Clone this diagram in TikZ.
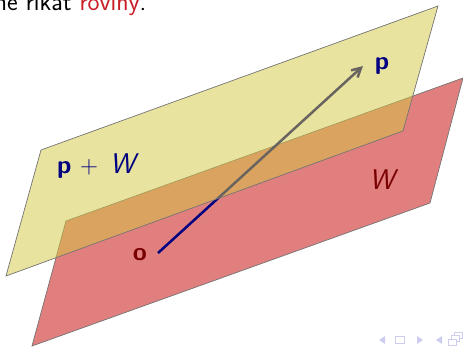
\documentclass[tikz,border=0pt]{standalone}
\usepackage{fontspec}
\usepackage{amsmath}
\usepackage{xcolor}
\usetikzlibrary{arrows.meta}
\definecolor{planered}{RGB}{196,0,0}
\definecolor{planeyellow}{RGB}{212,200,65}
\definecolor{vecblue}{RGB}{0,0,128}
\definecolor{labelred}{RGB}{120,0,0}
\definecolor{alertred}{RGB}{200,30,40}
\definecolor{navblue}{RGB}{205,205,240}
\newcommand{\bigW}{\fontsize{28.5}{30}\selectfont\textit{W}}
\begin{document}
\begin{tikzpicture}[
  x=1pt,y=-1pt,
  font=\sffamily\fontsize{25.5}{28}\selectfont,
  plane/.style={draw=black!55,line width=.7pt},
  redplane/.style={plane,fill=planered,fill opacity=.5},
  yellowplane/.style={plane,fill=planeyellow,fill opacity=.5},
  vec/.style={-{Straight Barb[length=3.2mm,width=3.4mm]},line width=2.5pt,vecblue},
  lab/.style={inner sep=0pt},
  navtip/.style={fill=navblue,draw=none},
  navbox/.style={draw=navblue,line width=.8pt,inner sep=0pt,fill=white},
]
\useasboundingbox (0,0) rectangle (463,347);
\clip (0,0) rectangle (463,347);
% text above the planes
\node[lab,anchor=base west] (txt) at (-12,11) {me říkat \textcolor{alertred}{roviny}.};

% red plane, then the vector, then the yellow one over both
\draw[redplane] (66,221) -- (463,78) -- (430,203) -- (32,346) -- cycle;
\coordinate (o) at (158,253);
\coordinate (p) at (363,66);
\draw[vec] (o) -- (p);
\draw[yellowplane] (41,150) -- (438,6) -- (403,131) -- (6,276) -- cycle;

% labels
\node[lab,vecblue,anchor=base] (lp) at (382,70) {\textbf{p}};
\node[lab,vecblue,anchor=base west] (lpw) at (57,174) {\textbf{p}\,\,{\fontsize{30}{30}\selectfont$+$}\hspace{12pt}\bigW};
\node[lab,labelred,anchor=base] (lw) at (384,190) {\bigW};
\node[lab,labelred,anchor=base] (lo) at (140,260.5) {\textbf{o}};

% navigation symbols
\fill[navtip] (379,340) -- (385,336) -- (385,344) -- cycle;
\node[navbox,minimum width=9pt,minimum height=6.5pt] (nav1) at (400,340) {};
\fill[navtip] (423,340) -- (417,336) -- (417,344) -- cycle;
\fill[navtip] (436,340) -- (442,336) -- (442,344) -- cycle;
\node[navbox,minimum width=8pt,minimum height=6pt] (nav4) at (458,335) {};
\node[navbox,minimum width=8pt,minimum height=6pt] (nav3) at (455,338) {};
\node[navbox,minimum width=8pt,minimum height=6pt] (nav2) at (452,342) {};
\end{tikzpicture}
\end{document}
